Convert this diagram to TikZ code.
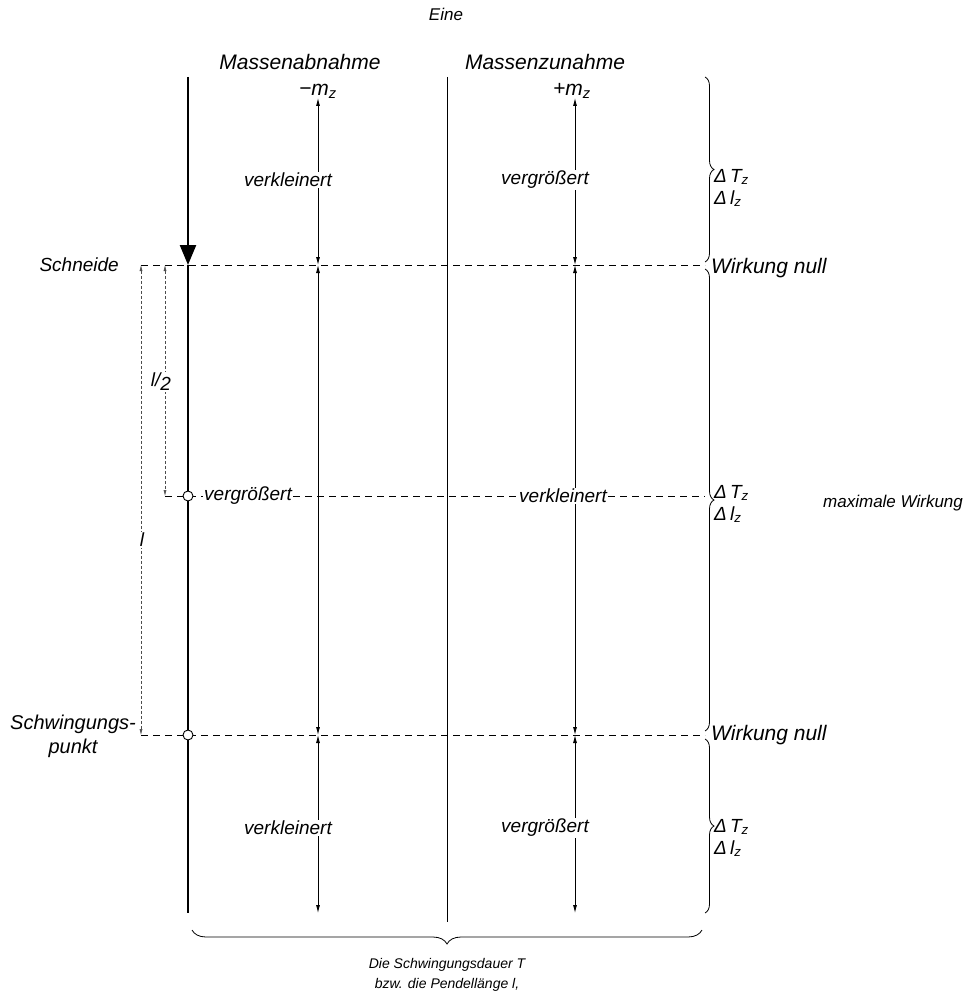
\documentclass[tikz,border=0pt]{standalone}
\usepackage{fontspec}
\setmainfont{Liberation Sans}
\usetikzlibrary{arrows.meta,decorations.pathreplacing}

\begin{document}
\begin{tikzpicture}[x=1pt,y=-1pt,font=\fontsize{19}{22}\selectfont\itshape]
    \tikzstyle{pendel}=[line width=2.4pt]
    \tikzstyle{thin line}=[line width=0.8pt]
    \tikzstyle{level line}=[line width=0.8pt,dash pattern=on 7pt off 5pt]
    \tikzstyle{dim line}=[line width=0.5pt,black!70,densely dashed,{Latex[length=6pt,width=3pt]}-{Latex[length=6pt,width=3pt]}]
    \tikzstyle{effect}=[thin line,{Latex[length=8pt,width=4pt]}-{Latex[length=8pt,width=4pt]}]
    \tikzstyle{brace}=[thin line,decorate,decoration={brace,amplitude=9pt}]
    \tikzstyle{annot}=[inner sep=1pt]
    \tikzstyle{word}=[annot,fill=white]
    \tikzstyle{head}=[annot,font=\fontsize{21}{24}\selectfont\itshape]
    \tikzstyle{ring}=[circle,draw,fill=white,line width=0.9pt,minimum size=10pt,inner sep=0pt]

    \useasboundingbox (0,0) rectangle (964,1000);

    % Headings
    \node[annot,font=\fontsize{17}{20}\selectfont\itshape] (title) at (446,14) {Eine};
    \node[head] (abn) at (300,62) {Massenabnahme};
    \node[head] (abn-m) at (318,91) {−m\textsubscript{z}};
    \node[head] (zun) at (545,62) {Massenzunahme};
    \node[head] (zun-m) at (572,91) {+m\textsubscript{z}};

    % Pendulum line
    \coordinate (P-top) at (188,77);
    \coordinate (P-S) at (188,265);
    \coordinate (P-bot) at (188,913);
    \draw[pendel,-{Triangle[length=20pt,width=16pt]}] (P-top) -- (P-S);
    \draw[pendel] (P-S) -- (P-bot);

    % Level lines
    \coordinate (S-L) at (141,265);
    \coordinate (S-R) at (705,265);
    \coordinate (O-L) at (141,735);
    \coordinate (O-R) at (705,735);
    \coordinate (M-L) at (165,496);
    \coordinate (M-R) at (705,496);
    \draw[level line] (S-L) -- (S-R);
    \draw[level line] (O-L) -- (O-R);

    % Centre line
    \coordinate (C-top) at (447,77);
    \coordinate (C-bot) at (447,922);
    \draw[thin line] (C-top) -- (C-bot);

    % Columns
    \foreach \name/\x in {A/318,B/575} {
        \coordinate (\name-top) at (\x,98);
        \coordinate (\name-S) at (\x,265);
        \coordinate (\name-O) at (\x,735);
        \coordinate (\name-bot) at (\x,913);
        \draw[effect] (\name-top) -- (\name-S);
        \draw[effect] (\name-S) -- (\name-O);
        \draw[effect] (\name-O) -- (\name-bot);
    }
    \node[word] (A-1) at (288,180) {verkleinert};
    \node[word] (B-1) at (545,180) {vergrößert};
    \node[word] (A-3) at (288,828) {verkleinert};
    \node[word] (B-3) at (545,828) {vergrößert};

    % Middle level line with labels
    \node[word] (A-2) at (248,496) {vergrößert};
    \node[word] (B-2) at (563,496) {verkleinert};
    \draw[level line] (M-L) -- (A-2);
    \draw[level line] (A-2) -- (B-2);
    \draw[level line] (B-2) -- (M-R);

    \node[ring] (P-M) at (188,496) {};
    \node[ring] (P-O) at (188,735) {};

    % Dimensions
    \draw[dim line] (S-L) -- (O-L);
    \node[word] (l) at (142,540) {l};
    \coordinate (H-top) at (165,265);
    \draw[dim line] (H-top) -- (M-L);
    \node[word] (l2) at (161,382) {l/\raisebox{-4pt}{2}};

    \node[annot,anchor=east] (schneide) at (120,265) {Schneide};
    \node[annot,align=center,font=\fontsize{20}{24}\selectfont\itshape] (spunkt) at (73,736) {Schwingungs-\\punkt};

    % Braces
    \coordinate (R1-top) at (705,77);
    \coordinate (R1-bot) at (705,262);
    \coordinate (R2-top) at (705,269);
    \coordinate (R2-bot) at (705,731);
    \coordinate (R3-top) at (705,739);
    \coordinate (R3-bot) at (705,913);
    \draw[brace] (R1-top) -- (R1-bot);
    \draw[brace] (R2-top) -- (R2-bot);
    \draw[brace] (R3-top) -- (R3-bot);
    \node[annot,anchor=west,align=left] (d1) at (713,188) {Δ\,T\textsubscript{z}\\Δ\,l\textsubscript{z}};
    \node[annot,anchor=west,align=left] (d2) at (713,504) {Δ\,T\textsubscript{z}\\Δ\,l\textsubscript{z}};
    \node[annot,anchor=west,align=left] (d3) at (713,838) {Δ\,T\textsubscript{z}\\Δ\,l\textsubscript{z}};
    \node[annot,anchor=west,font=\fontsize{17}{20}\selectfont\itshape] (maxw) at (822,503) {maximale Wirkung};
    \node[annot,anchor=west,font=\fontsize{21}{24}\selectfont\itshape] (null1) at (710,268) {Wirkung null};
    \node[annot,anchor=west,font=\fontsize{21}{24}\selectfont\itshape] (null2) at (710,735) {Wirkung null};

    \coordinate (U-L) at (192,930);
    \coordinate (U-R) at (702,930);
    \draw[brace,decoration={amplitude=14pt}] (U-R) -- (U-L);
    \node[annot,align=center,font=\fontsize{14}{20}\selectfont\itshape] (dauer) at (447,975) {Die Schwingungsdauer T\\bzw. die Pendellänge l,};
\end{tikzpicture}
\end{document}
